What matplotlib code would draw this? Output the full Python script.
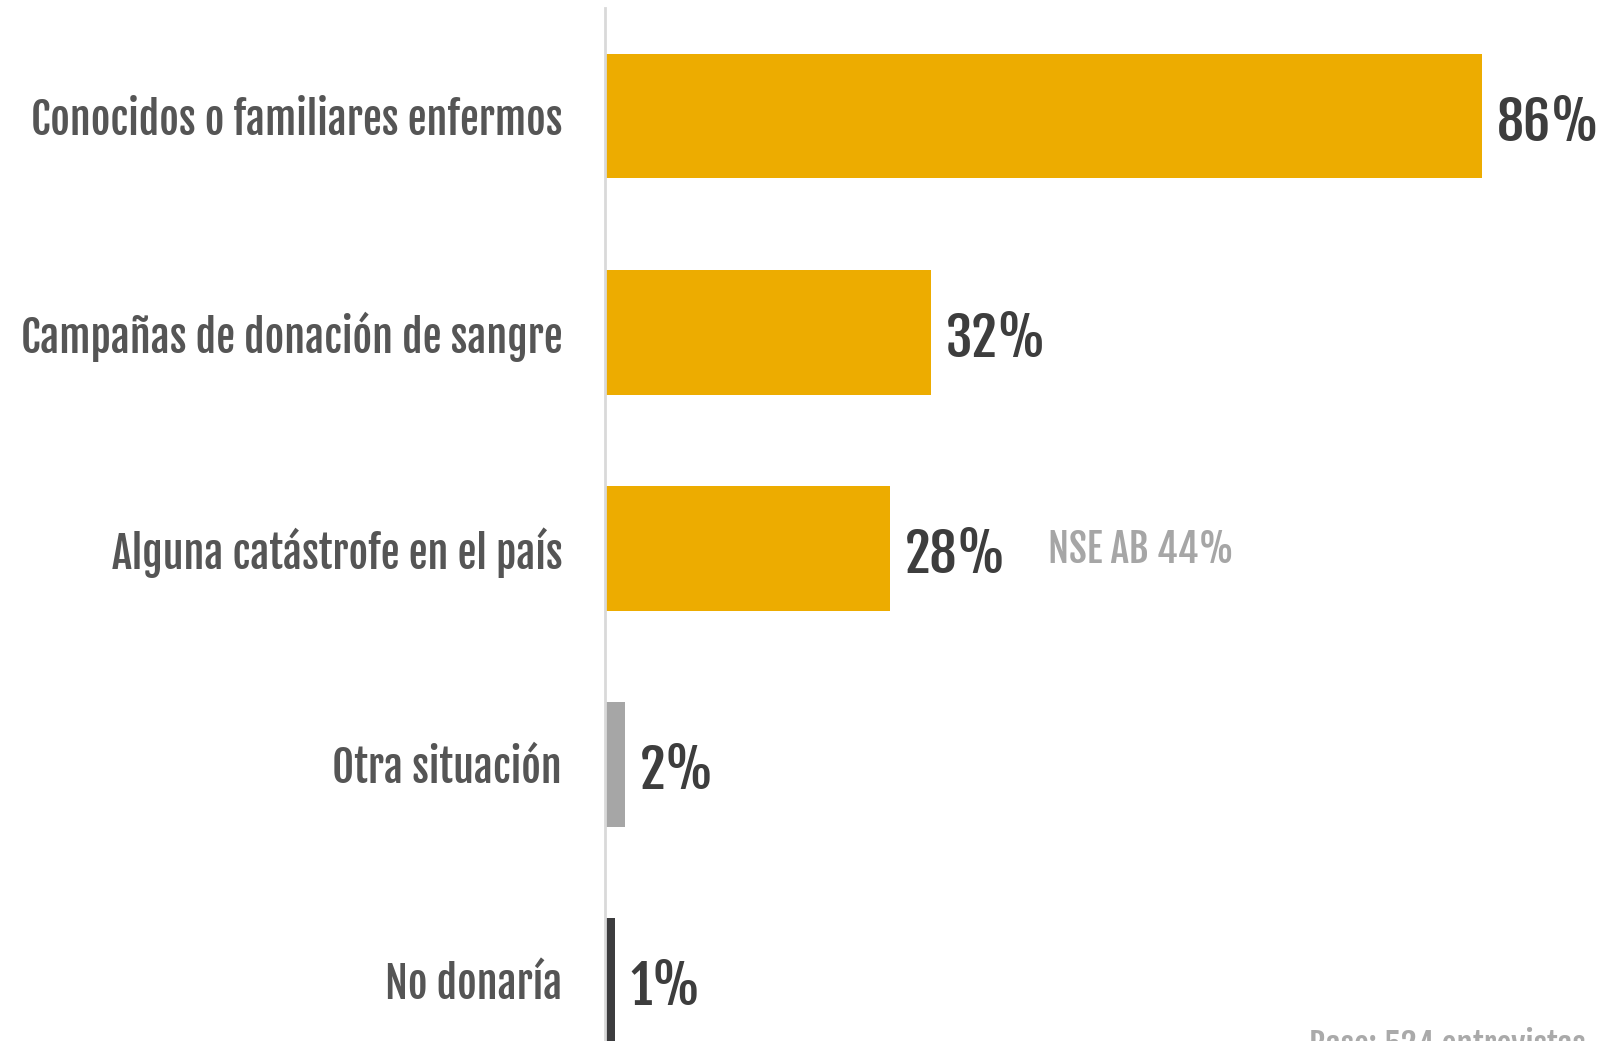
import matplotlib
matplotlib.use("Agg")
import matplotlib.pyplot as plt

FNT = ['Fjalla One', 'DejaVu Sans']

categorias = ['Conocidos o familiares enfermos', 'Campañas de donación de sangre',
              'Alguna catástrofe en el país', 'Otra situación', 'No donaría']
valores = [86, 32, 28, 2, 1]
colores = ['#EDAC00', '#EDAC00', '#EDAC00', '#A6A6A6', '#3C3C3E']
etiquetas = ['86%', '32%', '28%', '2%', '1%']
nota_fila = 2
nota = 'NSE AB 44%'
base = 'Base: 524 entrevistas'

fig = plt.figure(figsize=(15.99, 10.41), dpi=100)
ax = fig.add_axes([605/1599, 0, 1 - 605/1599, 1033/1041])

y = list(range(len(categorias)))
ax.barh(y, valores, height=0.577, color=colores)
ax.set_xlim(0, 97.5)
ax.set_ylim(4.28, -0.5)

# etiquetas de valor
for i, v in enumerate(valores):
    ax.text(v + 1.45, i + 0.03, etiquetas[i], fontsize=38.5,
            family=FNT, color='#3D3D3D', va='center', ha='left')

# categorias a la izquierda
for i, c in enumerate(categorias):
    ax.text(-4.2, i + 0.02, c, fontsize=30.5, family=FNT,
            color='#555555', va='center', ha='right', clip_on=False)

ax.text(43.5, nota_fila + 0.01, nota, fontsize=28, family=FNT,
        color='#A6A6A6', va='center', ha='left')

fig.text(1309/1599, 1 - 1028/1041, base, fontsize=24, family=FNT,
         color='#AAAAAA', va='top', ha='left')

for s in ['top', 'right', 'bottom']:
    ax.spines[s].set_visible(False)
ax.spines['left'].set_color('#D9D9D9')
ax.spines['left'].set_linewidth(2)
ax.set_xticks([])
ax.set_yticks([])

fig.savefig('out.png', dpi=100, facecolor='white')
